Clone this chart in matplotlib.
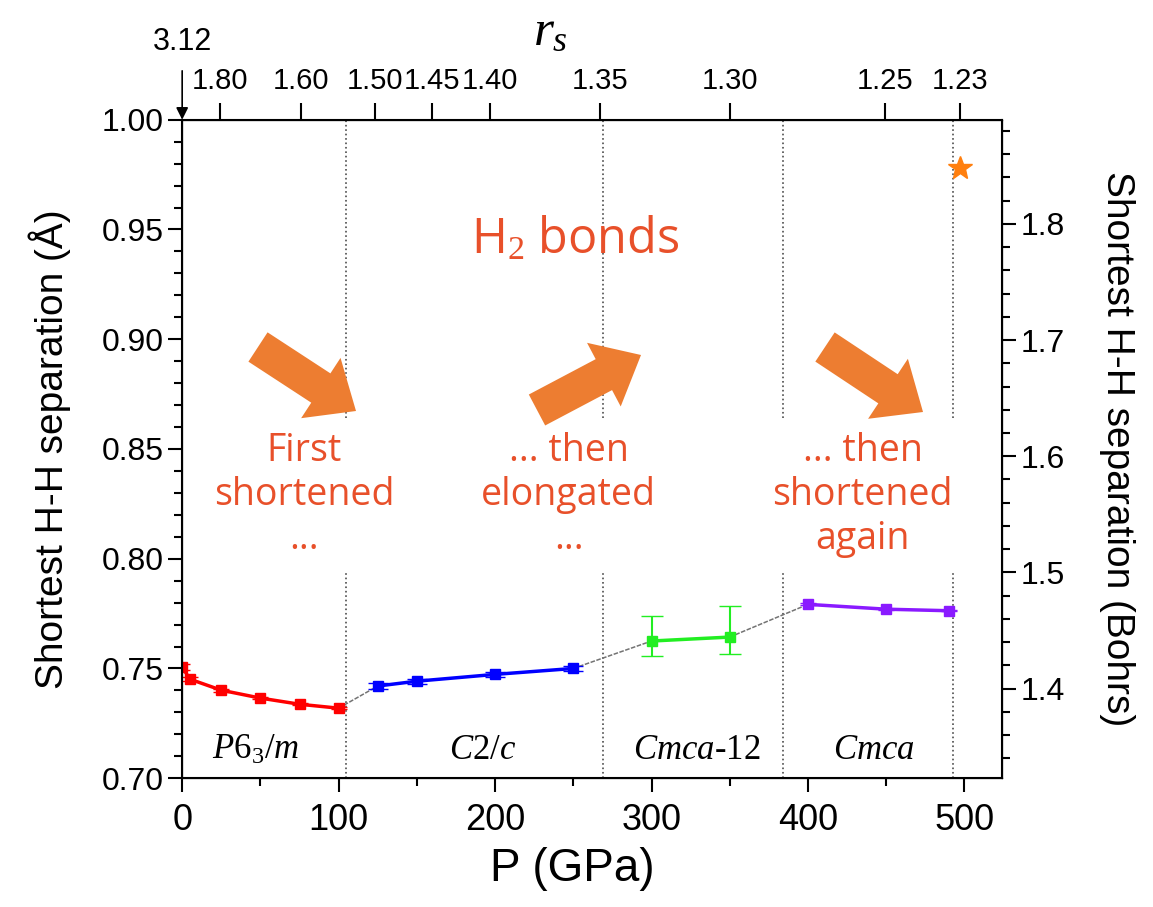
import matplotlib
matplotlib.use("Agg")
import matplotlib.pyplot as plt
from matplotlib.ticker import MultipleLocator
from matplotlib.patches import FancyArrow

plt.rcParams['mathtext.fontset'] = 'custom'
plt.rcParams['mathtext.rm'] = 'Liberation Serif'
plt.rcParams['mathtext.it'] = 'Liberation Serif:italic'
plt.rcParams['font.family'] = ['Liberation Sans', 'DejaVu Sans']

# data (P in GPa, shortest H-H distance in Angstrom)
p_p63m = [0, 5, 25, 50, 75, 100]
d_p63m = [0.7506, 0.7451, 0.7401, 0.7365, 0.7337, 0.7319]
e_p63m = [0.0015, 0.0008, 0.0006, 0.0005, 0.0005, 0.0005]

p_c2c = [125, 150, 200, 250]
d_c2c = [0.7420, 0.7442, 0.7473, 0.7500]
e_c2c = [0.0012, 0.0012, 0.0012, 0.0012]

p_cmca12 = [300, 350]
d_cmca12 = [0.7625, 0.7643]
e_cmca12_lo = [0.0069, 0.0078]
e_cmca12_hi = [0.0114, 0.0141]

p_cmca = [400, 450, 490]
d_cmca = [0.7792, 0.7770, 0.7763]
e_cmca = [0.0004, 0.0003, 0.0003]

p_star = [497]
d_star = [0.978]

boundaries = [105, 269, 384, 493]
phase_names = [r'$P6_3/m$', r'$C2/c$', r'$Cmca$-12', r'$Cmca$']
phase_x = [47, 192, 329, 442]

rs_pos = [24, 76, 123, 160, 197, 267, 350, 449, 497]
rs_labels = ['1.80', '1.60', '1.50', '1.45', '1.40', '1.35', '1.30', '1.25', '1.23']

bohr = 0.529177
orange_txt = '#E8502A'
orange_arrow = '#ED7D31'

fig = plt.figure(figsize=(11.53, 9.07), dpi=100)
ax = fig.add_axes([0.158, 0.142, 0.711, 0.726])

# grey connectors between phases
segs = [(p_p63m, d_p63m, p_c2c, d_c2c), (p_c2c, d_c2c, p_cmca12, d_cmca12),
        (p_cmca12, d_cmca12, p_cmca, d_cmca)]
for pa, da, pb, db in segs:
    ax.plot([pa[-1], pb[0]], [da[-1], db[0]], color='0.45', lw=1.1,
            ls=(0, (3, 1)), zorder=2)

ax.errorbar(p_p63m, d_p63m, yerr=e_p63m, color='#ff0000', lw=2.5, marker='s',
            ms=7, capsize=6, elinewidth=1.5, zorder=3)
ax.errorbar(p_c2c, d_c2c, yerr=e_c2c, color='#0000ff', lw=2.5, marker='s',
            ms=7, capsize=7, elinewidth=1.5, zorder=3)
ax.errorbar(p_cmca12, d_cmca12, yerr=[e_cmca12_lo, e_cmca12_hi], color='#22ee22',
            lw=2.5, marker='s', ms=7, capsize=8, elinewidth=1.5, zorder=3)
ax.errorbar(p_cmca, d_cmca, yerr=e_cmca, color='#8a1aff', lw=2.5, marker='s',
            ms=7, capsize=6, elinewidth=1.5, zorder=3)
ax.plot(p_star, d_star, marker='*', color='#ff7f0e', ms=18, ls='none', zorder=4)

# dotted phase boundaries (gap where the text sits)
for b in boundaries:
    ax.axvline(b, ymin=0, ymax=0.313, color='0.3', ls=':', lw=1.2, zorder=1)
    ax.axvline(b, ymin=0.547, ymax=1, color='0.3', ls=':', lw=1.2, zorder=1)

for name, x in zip(phase_names, phase_x):
    ax.text(x, 0.7128, name, ha='center', va='center', fontsize=25,
            family='Liberation Serif')

ax.set_xlim(0, 524)
ax.set_ylim(0.70, 1.00)
ax.xaxis.set_major_locator(MultipleLocator(100))
ax.xaxis.set_minor_locator(MultipleLocator(50))
ax.yaxis.set_major_locator(MultipleLocator(0.05))
ax.yaxis.set_minor_locator(MultipleLocator(0.01))
ax.yaxis.set_major_formatter(plt.FormatStrFormatter('%.2f'))
ax.tick_params(axis='both', which='major', direction='out', length=10, width=1.5)
ax.tick_params(axis='both', which='minor', direction='out', length=6, width=1.5)
ax.tick_params(axis='y', labelsize=23)
ax.tick_params(axis='x', labelsize=26, pad=8)
for s in ax.spines.values():
    s.set_linewidth(1.5)
ax.set_xlabel('P (GPa)', fontsize=33)
ax.xaxis.set_label_coords(0.476, -0.105)
ax.set_ylabel('Shortest H-H separation (Å)', fontsize=28, labelpad=22)

# right axis in Bohrs
axr = ax.twinx()
axr.set_ylim(0.70 / bohr, 1.00 / bohr)
axr.yaxis.set_major_locator(MultipleLocator(0.1))
axr.yaxis.set_minor_locator(MultipleLocator(0.02))
axr.yaxis.set_major_formatter(plt.FormatStrFormatter('%.1f'))
axr.tick_params(which='major', direction='out', length=10, width=1.5, labelsize=23)
axr.tick_params(which='minor', direction='out', length=6, width=1.5)
axr.set_ylabel('Shortest H-H separation (Bohrs)', fontsize=28, rotation=270,
               labelpad=50)

# top axis r_s
axt = ax.twiny()
axt.set_xlim(ax.get_xlim())
axt.set_xticks(rs_pos)
axt.set_xticklabels(rs_labels, fontsize=21)
axt.tick_params(which='major', direction='out', length=12, width=1.5, pad=6)
axt.set_xlabel(r'$r_s$', fontsize=37)
axt.xaxis.set_label_coords(0.449, 1.113)
axt.annotate('3.12', xy=(0, 1.0), xycoords=('data', 'axes fraction'),
             xytext=(0, 56), textcoords='offset points', ha='center', va='center',
             fontsize=22,
             arrowprops=dict(arrowstyle='-|>', color='black', lw=1.2,
                             shrinkA=8, shrinkB=0, mutation_scale=18))

# annotations
ax.text(251, 0.945, r'H$_2$ bonds', color=orange_txt, fontsize=35,
        family='Open Sans', ha='center', va='center')
notes = ['First\nshortened\n...', '... then\nelongated\n...', '... then\nshortened\nagain']
notes_x = [78, 247, 435]
for t, x in zip(notes, notes_x):
    ax.text(x, 0.829, t, color=orange_txt, fontsize=27, family='Open Sans',
            ha='center', va='center', linespacing=1.2)

arrows = [((258, 347), (356, 411)), ((537, 410), (641, 355)), ((825, 347), (923, 412))]
for (x0, y0), (x1, y1) in arrows:
    arr = FancyArrow(x0 / 100, (907 - y0) / 100, (x1 - x0) / 100, (y0 - y1) / 100,
                     width=0.35, head_width=0.72, head_length=0.42,
                     length_includes_head=True, color=orange_arrow, lw=0,
                     transform=fig.dpi_scale_trans)
    fig.patches.append(arr)

fig.savefig('out.png', dpi=100)
